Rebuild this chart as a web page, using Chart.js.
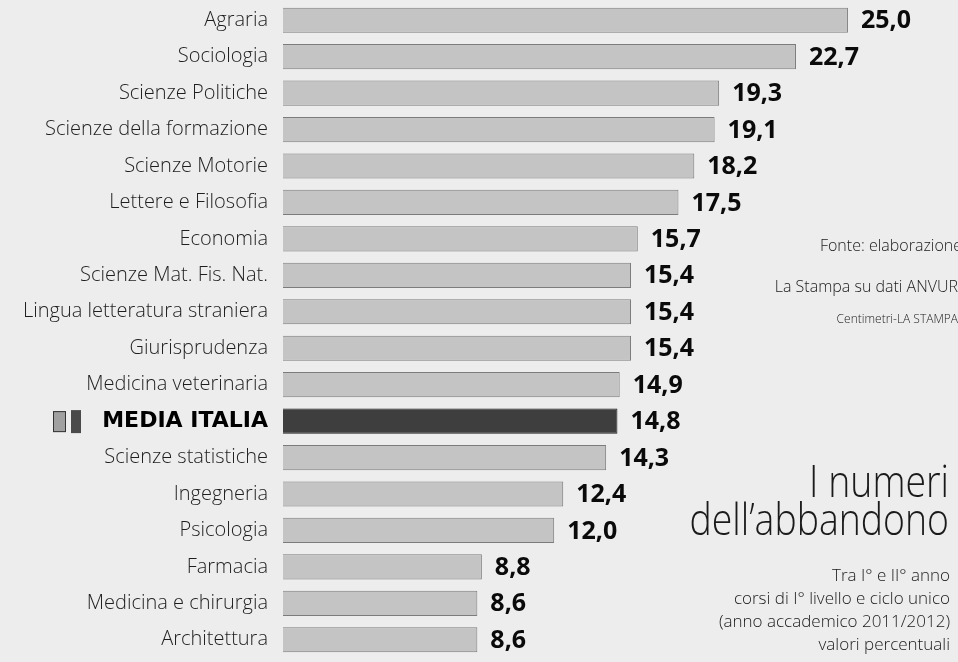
<!DOCTYPE html>
<html>
<head>
<meta charset="utf-8">
<script src="https://cdn.jsdelivr.net/npm/chart.js@4"></script>
<style>
  html, body { margin: 0; padding: 0; background: #ededed; }
  #wrap { width: 958px; height: 662px; }
</style>
</head>
<body>
<div id="wrap"><canvas id="abbandoniChart" width="958" height="662"></canvas></div>
<script>
const facolta = [
  'Agraria', 'Sociologia', 'Scienze Politiche', 'Scienze della formazione',
  'Scienze Motorie', 'Lettere e Filosofia', 'Economia', 'Scienze Mat. Fis. Nat.',
  'Lingua letteratura straniera', 'Giurisprudenza', 'Medicina veterinaria',
  'MEDIA ITALIA', 'Scienze statistiche', 'Ingegneria', 'Psicologia',
  'Farmacia', 'Medicina e chirurgia', 'Architettura'
];
const abbandoni = [25.0, 22.7, 19.3, 19.1, 18.2, 17.5, 15.7, 15.4, 15.4, 15.4, 14.9, 14.8, 14.3, 12.4, 12.0, 8.8, 8.6, 8.6];
const mediaLabel = 'MEDIA ITALIA';

const titleLines = ['I numeri', 'dell\u2019abbandono'];
const subtitleLines = ['Tra I\u00b0 e II\u00b0 anno', 'corsi di I\u00b0 livello e ciclo unico', '(anno accademico 2011/2012)', 'valori percentuali'];
const fonteLines = ['Fonte: elaborazione', 'La Stampa su dati ANVUR'];
const creditLine = 'Centimetri-LA STAMPA';

const mediaIdx = facolta.indexOf(mediaLabel);
const barColors = facolta.map(f => f === mediaLabel ? '#3e3e3e' : '#c4c4c4');
const borderColors = facolta.map(f => f === mediaLabel ? '#1e1e1e' : '#7c7c7c');

// etichette valore + testi laterali
const extrasPlugin = {
  id: 'extras',
  afterDatasetsDraw(chart) {
    const ctx = chart.ctx;
    const meta = chart.getDatasetMeta(0);
    ctx.save();
    ctx.fillStyle = '#0a0a0a';
    ctx.font = 'bold 25px "Open Sans"';
    ctx.textAlign = 'left';
    ctx.textBaseline = 'middle';
    meta.data.forEach((bar, i) => {
      ctx.fillText(abbandoni[i].toFixed(1).replace('.', ','), bar.x + 13, bar.y + 1);
    });

    // icone accanto a MEDIA ITALIA
    const yM = chart.scales.y.getPixelForValue(mediaIdx);
    ctx.fillStyle = '#a0a0a0';
    ctx.fillRect(53, yM - 10, 13, 21);
    ctx.strokeStyle = '#333';
    ctx.strokeRect(53.5, yM - 9.5, 12, 20);
    ctx.fillStyle = '#4a4a4a';
    ctx.fillRect(71, yM - 11, 10, 23);

    ctx.textAlign = 'right';
    ctx.textBaseline = 'alphabetic';
    ctx.fillStyle = '#1a1a1a';
    ctx.font = '300 44px "Open Sans"';
    ctx.save();
    ctx.translate(949, 0);
    ctx.scale(0.85, 1);
    ctx.fillText(titleLines[0], 0, 497);
    ctx.fillText(titleLines[1], 0, 535);
    ctx.restore();

    ctx.font = '300 17px "Open Sans"';
    const subY = [581, 604, 627, 650];
    subtitleLines.forEach((t, i) => ctx.fillText(t, 950, subY[i]));

    ctx.font = '300 16px "Open Sans"';
    ctx.fillText(fonteLines[0], 962, 251);
    ctx.fillText(fonteLines[1], 958, 292);
    ctx.font = '300 12px "Open Sans"';
    ctx.fillText(creditLine, 958, 323);
    ctx.restore();
  }
};

new Chart(document.getElementById('abbandoniChart'), {
  type: 'bar',
  data: {
    labels: facolta,
    datasets: [{
      data: abbandoni,
      backgroundColor: barColors,
      borderColor: borderColors,
      borderWidth: 1,
      barPercentage: 0.69,
      categoryPercentage: 1
    }]
  },
  options: {
    indexAxis: 'y',
    responsive: false,
    animation: false,
    layout: { padding: { top: 2, bottom: 4, left: 0, right: 0 } },
    plugins: {
      legend: { display: false },
      title: { display: false },
      tooltip: { enabled: false }
    },
    scales: {
      x: {
        min: 0,
        max: 29.87,
        display: false
      },
      y: {
        grid: { display: false, drawTicks: false },
        border: { display: false },
        afterFit(scale) {
          scale.width = 283;
          // niente margine verticale extra dalle etichette
          scale.paddingTop = 0;
          scale.paddingBottom = 0;
        },
        ticks: {
          padding: 15,
          color: ctx => ctx.index === mediaIdx ? '#000' : '#1e1e1e',
          font: ctx => ctx.index === mediaIdx
            ? { family: 'DejaVu Sans', size: 22, weight: 'bold' }
            : { family: 'Open Sans', size: 20, weight: '300' }
        }
      }
    }
  },
  plugins: [extrasPlugin]
});
</script>
</body>
</html>
